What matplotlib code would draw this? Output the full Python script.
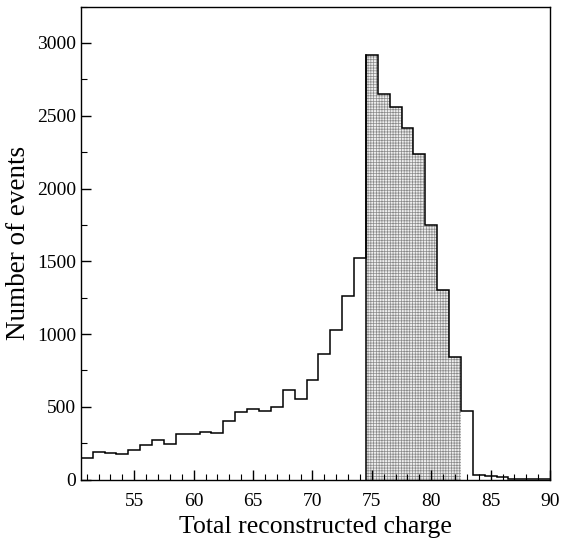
import numpy as np
import matplotlib
matplotlib.use('Agg')
from matplotlib import pyplot as plt
from matplotlib.ticker import MultipleLocator

# bin edges (unit width) and counts
edges = np.arange(50.5, 91.5, 1.0)
counts = [150, 188, 180, 175, 203, 237, 273, 242, 310, 310,
          328, 321, 404, 464, 482, 473, 496, 615, 551, 683,
          862, 1027, 1260, 1523, 2920, 2648, 2558, 2419, 2236, 1746,
          1301, 839, 468, 30, 22, 15, 6, 5, 4, 2]
shade_lo, shade_hi = 74.5, 82.5

plt.rcParams['font.family'] = ['Liberation Serif', 'DejaVu Serif']
plt.rcParams['hatch.color'] = '#8a8a8a'
plt.rcParams['hatch.linewidth'] = 0.5

fig = plt.figure(figsize=(5.63, 5.5), dpi=100)
ax = fig.add_axes([0.1435, 0.128, 0.8335, 0.86])

# shaded bins
sel = (edges[:-1] >= shade_lo) & (edges[1:] <= shade_hi)
ax.bar(edges[:-1][sel], np.array(counts)[sel], width=1.0, align='edge',
       color='#eeeeee', hatch='++++++', edgecolor='#8a8a8a', linewidth=0)

ax.stairs(counts, edges, color='k', linewidth=1.1)
ax.plot([shade_lo, shade_lo], [0, counts[24]], color='k', linewidth=1.1)

ax.set_xlim(50.5, 90)
ax.set_ylim(0, 3250)
ax.xaxis.set_major_locator(MultipleLocator(5))
ax.xaxis.set_minor_locator(MultipleLocator(1))
ax.yaxis.set_major_locator(MultipleLocator(500))
ax.yaxis.set_minor_locator(MultipleLocator(250))
ax.tick_params(which='both', direction='in', top=False, right=False, labelsize=14)
ax.tick_params(which='major', length=7, width=1)
ax.tick_params(which='minor', length=4, width=0.8)
ax.tick_params(axis='x', pad=10)
for s in ax.spines.values():
    s.set_linewidth(1)

ax.set_xlabel('Total reconstructed charge', fontsize=18.5)
ax.set_ylabel('Number of events', fontsize=19.5)

plt.savefig('out.png', dpi=100)
